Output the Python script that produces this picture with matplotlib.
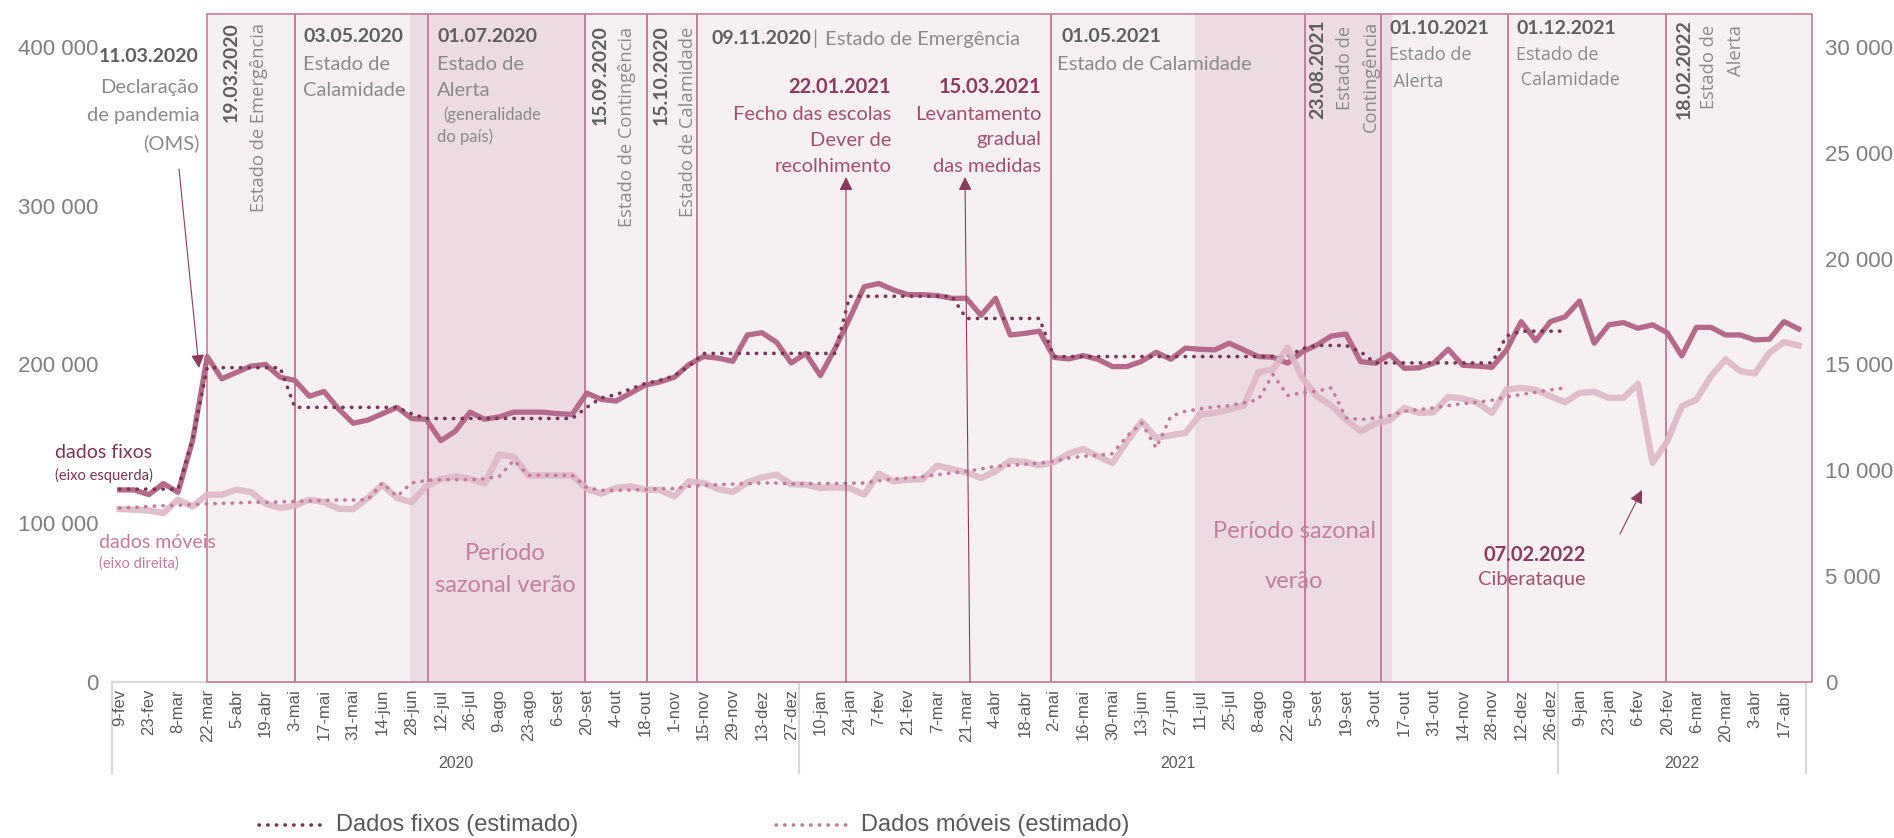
import numpy as np
import matplotlib
matplotlib.use('Agg')
import matplotlib.pyplot as plt
from matplotlib.patches import Rectangle, FancyArrowPatch
from matplotlib.lines import Line2D

W, H = 1894, 838

# ---------------- data ----------------
week_labels = ['9-fev', '23-fev', '8-mar', '22-mar', '5-abr', '19-abr', '3-mai', '17-mai', '31-mai', '14-jun',
               '28-jun', '12-jul', '26-jul', '9-ago', '23-ago', '6-set', '20-set', '4-out', '18-out', '1-nov',
               '15-nov', '29-nov', '13-dez', '27-dez',
               '10-jan', '24-jan', '7-fev', '21-fev', '7-mar', '21-mar', '4-abr', '18-abr', '2-mai', '16-mai',
               '30-mai', '13-jun', '27-jun', '11-jul', '25-jul', '8-ago', '22-ago', '5-set', '19-set', '3-out',
               '17-out', '31-out', '14-nov', '28-nov', '12-dez', '26-dez',
               '9-jan', '23-jan', '6-fev', '20-fev', '6-mar', '20-mar', '3-abr', '17-abr']
years = ['2020', '2021', '2022']
year_bounds = [-0.5, 46.5, 98.5, 115.5]

dados_fixos = [121000, 121000, 118000, 125000, 119500, 152000, 205000, 191000, 195000, 199000,
               200000, 192000, 190000, 180000, 183000, 172000, 163000, 165000, 169000, 173000,
               166000, 165500, 152000, 158000, 170000, 165500, 167000, 170000, 170000, 170000,
               169000, 168600, 182000, 178000, 177000, 182000, 187000, 189000, 192000, 200000,
               205000, 204000, 202000, 218600, 220000, 214000, 201000, 207000, 193000, 210000,
               229000, 249000, 251000, 247000, 244000, 244000, 243400, 241700, 241700, 231000,
               241700, 218600, 219600, 221000, 204500, 203500, 205600, 203300, 198700, 198700,
               202000, 207700, 203300, 210300, 209600, 209200, 213400, 209200, 205000, 204600,
               200800, 208000, 212300, 218000, 219200, 201800, 200800, 206400, 197600, 197900,
               200800, 209600, 199500, 199000, 198200, 209200, 227000, 215000, 227000, 230000,
               240000, 213400, 225000, 226400, 222800, 225000, 220000, 205400, 223400, 223400,
               218600, 218600, 215500, 215900, 227000, 222400]

dados_fixos_est = [121500, 121500, 121500, 121500, 121500, 153000, 198000, 198000, 198000, 198000,
                   198000, 198000, 173000, 173000, 173000, 173000, 173000, 173000, 173000, 173000,
                   169000, 166000, 166000, 166000, 166000, 166000, 166000, 166000, 166000, 166000,
                   166000, 166000, 173000, 179000, 181000, 184600, 188000, 190000, 193000, 199000,
                   207000, 207000, 207000, 207000, 207000, 207000, 207000, 207000, 207000, 207000,
                   243000, 243000, 243000, 243000, 243000, 243000, 243000, 243000, 229000, 229000,
                   229000, 229000, 229000, 229000, 205000, 205000, 205000, 205000, 205000, 205000,
                   205000, 205000, 205000, 205000, 205000, 205000, 205000, 205000, 205000, 205000,
                   205000, 210000, 212000, 212000, 212000, 208000, 201000, 201000, 201000, 201000,
                   201000, 201000, 201000, 201000, 201000, 218000, 221000, 221000, 221000, 221000]

dados_moveis = [8172, 8139, 8100, 7983, 8612, 8296, 8849, 8849, 9086, 8976,
                8423, 8219, 8328, 8612, 8502, 8186, 8170, 8693, 9322, 8693,
                8502, 9243, 9590, 9716, 9606, 9370, 10742, 10632, 9748, 9764,
                9764, 9764, 9118, 8896, 9165, 9244, 9086, 9070, 8770, 9480,
                9400, 9118, 8976, 9433, 9670, 9795, 9340, 9322, 9165, 9200,
                9165, 8849, 9843, 9480, 9559, 9575, 10221, 10064, 9906, 9638,
                9953, 10458, 10395, 10237, 10379, 10789, 11011, 10663, 10348, 11350,
                12318, 11530, 11656, 11767, 12634, 12713, 12871, 13060, 14638, 14764,
                15789, 14370, 13502, 13060, 12398, 11845, 12208, 12366, 12950, 12713,
                12745, 13470, 13390, 13200, 12713, 13817, 13896, 13800, 13502, 13218,
                13660, 13707, 13423, 13423, 14086, 10348, 11372, 13029, 13344, 14448,
                15237, 14685, 14575, 15552, 16057, 15900]

dados_moveis_est = [8219, 8250, 8298, 8330, 8350, 8376, 8420, 8440, 8455, 8490,
                    8490, 8510, 8534, 8550, 8580, 8600, 8600, 8612, 9401, 8770,
                    9401, 9527, 9559, 9559, 9559, 9600, 9716, 10474, 9764, 9764,
                    9764, 9764, 9180, 9054, 9054, 9070, 9090, 9133, 9133, 9244,
                    9291, 9323, 9354, 9370, 9401, 9401, 9354, 9370, 9380, 9380,
                    9390, 9400, 9512, 9590, 9638, 9700, 9795, 9875, 9953, 10064,
                    10190, 10237, 10284, 10332, 10426, 10584, 10663, 10710, 10789, 11609,
                    12240, 11057, 12555, 12792, 12902, 12997, 13060, 13186, 13344, 14527,
                    13534, 13660, 13739, 13897, 12476, 12398, 12476, 12587, 12792, 12871,
                    12950, 13060, 13150, 13218, 13313, 13470, 13581, 13691, 13800, 13896]

# periods (box edges in week-index units) and summer periods
box_edges = [6.0, 12.0, 21.1, 31.9, 36.1, 39.57, 63.77, 81.2, 86.4, 95.1, 105.9, 115.95]
summer_periods = [(19.9, 31.9), (73.66, 87.13)]

# ---------------- styling ----------------
C_FIX = '#b46a88'
C_FIX_EST = '#7a3552'
C_MOV = '#deb8c7'
C_MOV_EST = '#c27b98'
C_BOX = '#f7f0f3'
C_BOX_EDGE = '#c47d9a'
C_SUMMER = '#ecdbe2'
C_DATE = '#5e5e5e'
C_DESC = '#8a8a8a'
C_MAG = '#8b3a5e'
C_MAG2 = '#a0506f'
C_PER = '#c47f9c'

plt.rcParams['font.family'] = ['Lato', 'DejaVu Sans']

fig = plt.figure(figsize=(W / 100, H / 100), dpi=100)
x0_px, x1_px = 112.3, 1805.9
y0_px, y1_px = 682.0, 47.0
ax = fig.add_axes([x0_px / W, (H - y0_px) / H, (x1_px - x0_px) / W, (y0_px - y1_px) / H])
ax2 = ax.twinx()

ax.set_xlim(-0.5, 115.5)
ax.set_ylim(0, 400000)
ax2.set_ylim(0, 30000)
ax.patch.set_alpha(0)

top_val = 421000
for a, b in zip(box_edges[:-1], box_edges[1:]):
    ax.add_patch(Rectangle((a, 0), b - a, top_val, facecolor=C_BOX, edgecolor='none',
                           zorder=0.5, clip_on=False))
for a, b in summer_periods:
    ax.add_patch(Rectangle((a, 0), b - a, top_val, facecolor=C_SUMMER, edgecolor='none',
                           zorder=0.6, clip_on=False))
for a, b in zip(box_edges[:-1], box_edges[1:]):
    ax.add_patch(Rectangle((a, 0), b - a, top_val, facecolor='none', edgecolor=C_BOX_EDGE,
                           lw=1.2, zorder=0.7, clip_on=False))

x_all = np.arange(len(dados_fixos))
x_est = np.arange(len(dados_fixos_est))

ax.plot(x_all, dados_fixos, color=C_FIX, lw=3.8, zorder=3)
ax.plot(x_est, dados_fixos_est, color=C_FIX_EST, lw=2.6, zorder=4,
        linestyle=(0, (0.1, 2.3)), dash_capstyle='round')
ax2.plot(x_all, dados_moveis, color=C_MOV, lw=4.6, zorder=3, alpha=0.9)
ax2.plot(x_est, dados_moveis_est, color=C_MOV_EST, lw=2.6, zorder=4,
         linestyle=(0, (0.1, 2.3)), dash_capstyle='round')

for s in ['left', 'right', 'top']:
    ax.spines[s].set_visible(False)
    ax2.spines[s].set_visible(False)
ax2.spines['bottom'].set_visible(False)
ax.spines['bottom'].set_color('#d9d9d9')
ax.spines['bottom'].set_linewidth(1.5)
ax.spines['bottom'].set_zorder(0.4)

fmt = lambda v: f"{int(v):,}".replace(',', ' ')
lt = [0, 100000, 200000, 300000, 400000]
ax.set_yticks(lt)
ax.set_yticklabels([fmt(v) for v in lt], fontfamily='Liberation Sans', fontsize=16, color='#7f7f7f')
rt = [0, 5000, 10000, 15000, 20000, 25000, 30000]
ax2.set_yticks(rt)
ax2.set_yticklabels([fmt(v) for v in rt], fontfamily='Liberation Sans', fontsize=16, color='#7f7f7f')
ax.tick_params(axis='y', length=0, pad=10)
ax2.tick_params(axis='y', length=0, pad=14)

ax.set_xticks(np.arange(0, 116, 2))
ax.set_xticklabels(week_labels, rotation=90, fontfamily='Liberation Sans', fontsize=12, color='#595959')
ax.tick_params(axis='x', length=0, pad=5)

tx = ax.get_xaxis_transform()
for xb in year_bounds:
    ax.plot([xb, xb], [0, -0.1433], transform=tx, color='#d9d9d9', lw=1.5, clip_on=False, zorder=0.4)
for i, yl in enumerate(years):
    ax.text((year_bounds[i] + year_bounds[i + 1]) / 2, -0.1276, yl, transform=tx, ha='center',
            va='center', fontfamily='Liberation Sans', fontsize=11.5, color='#595959')


# ---------------- annotations ----------------
def T(x, y, s, **kw):
    kw.setdefault('va', 'center')
    fig.text(x / W, 1 - y / H, s, **kw)


def R(x, ytop, s, **kw):
    fig.text(x / W, 1 - ytop / H, s, rotation=90, ha='center', va='top', **kw)


B = dict(fontweight='bold', color=C_DATE, fontsize=14)
D = dict(color=C_DESC, fontsize=14.5)
OS = dict(color=C_DESC, fontsize=13.2, family=['Open Sans', 'DejaVu Sans'])
OSH = dict(color=C_DESC, fontsize=13, family=['Open Sans', 'DejaVu Sans'])
OSB = dict(color=C_DATE, fontsize=14, fontweight='bold')

T(199, 57, '11.03.2020', ha='right', **B)
T(199, 87, 'Declaração', ha='right', **D)
T(199, 115, 'de pandemia', ha='right', **D)
T(199, 143, '(OMS)', ha='right', **D)

R(231, 22, '19.03.2020', **OSB)
R(259, 23, 'Estado de Emergência', **OS)

T(303, 37, '03.05.2020', ha='left', **B)
T(303, 64, 'Estado de', ha='left', **D)
T(303, 91, 'Calamidade', ha='left', **D)

T(437, 37, '01.07.2020', ha='left', **B)
T(437, 64, 'Estado de', ha='left', **D)
T(437, 91, 'Alerta', ha='left', **D)
T(443, 115, '(generalidade', ha='left', color=C_DESC, fontsize=12)
T(437, 137, 'do país)', ha='left', color=C_DESC, fontsize=12)

R(600, 25, '15.09.2020', **OSB)
R(627, 27, 'Estado de Contingência', **OS)
R(661, 25, '15.10.2020', **OSB)
R(688, 27, 'Estado de Calamidade', **OS)

T(711, 39, '09.11.2020', ha='left', **B)
T(815, 39, '|', ha='center', **D)
T(825, 39, 'Estado de Emergência', ha='left', **D)

T(891, 87, '22.01.2021', ha='right', fontweight='bold', color=C_MAG, fontsize=14.5)
T(891, 115, 'Fecho das escolas', ha='right', color=C_MAG2, fontsize=14.5)
T(891, 140, 'Dever de', ha='right', color=C_MAG2, fontsize=14.5)
T(891, 167, 'recolhimento', ha='right', color=C_MAG2, fontsize=14.5)

T(1041, 87, '15.03.2021', ha='right', fontweight='bold', color=C_MAG, fontsize=14.5)
T(1041, 115, 'Levantamento', ha='right', color=C_MAG2, fontsize=14.5)
T(1041, 140, 'gradual', ha='right', color=C_MAG2, fontsize=14.5)
T(1041, 167, 'das medidas', ha='right', color=C_MAG2, fontsize=14.5)

T(1061, 37, '01.05.2021', ha='left', **B)
T(1057, 64, 'Estado de Calamidade', ha='left', **D)

R(1318, 19, '23.08.2021', **OSB)
R(1345, 26, 'Estado de', **OS)
R(1371, 21, 'Contingência', **OS)

T(1389, 28, '01.10.2021', ha='left', **B)
T(1389, 55, 'Estado de', ha='left', **OSH)
T(1389, 82, ' Alerta', ha='left', **OSH)

T(1516, 28, '01.12.2021', ha='left', **B)
T(1516, 55, 'Estado de', ha='left', **OSH)
T(1516, 80, ' Calamidade', ha='left', **OSH)

R(1684, 19, '18.02.2022', **OSB)
R(1709, 25, 'Estado de', **OS)
R(1736, 25, 'Alerta', **OS)

T(505, 553, 'Período', ha='center', color=C_PER, fontsize=17)
T(505, 585, 'sazonal verão', ha='center', color=C_PER, fontsize=17)
T(1294, 531, 'Período sazonal', ha='center', color=C_PER, fontsize=17)
T(1294, 582, 'verão', ha='center', color=C_PER, fontsize=17)

T(55, 452, 'dados fixos', ha='left', color=C_FIX_EST, fontsize=14)
T(55, 475, '(eixo esquerda)', ha='left', color=C_FIX_EST, fontsize=10.5)
T(99, 542, 'dados móveis', ha='left', color=C_MOV_EST, fontsize=14)
T(99, 564, '(eixo direita)', ha='left', color=C_MOV_EST, fontsize=10.5)

T(1586, 555, '07.02.2022', ha='right', fontweight='bold', color=C_MAG, fontsize=14.5)
T(1586, 579, 'Ciberataque', ha='right', color=C_MAG2, fontsize=14.5)

arrow = dict(arrowstyle='-|>', color=C_MAG, lw=0.8, mutation_scale=20, shrinkA=0, shrinkB=0)


def A(xs, ys, xe, ye):
    fig.add_artist(FancyArrowPatch((xs, H - ys), (xe, H - ye), transform=None, **arrow))


A(179, 169, 199, 368)
A(846, 682, 846, 177)
A(970, 682, 965, 177)
A(1620, 534, 1642, 490)

# ---------------- legend ----------------
ly = H - 825
fig.add_artist(Line2D([259 / W, 325 / W], [ly / H, ly / H], color=C_FIX_EST, lw=2.6,
                      linestyle=(0, (0.1, 2.3)), dash_capstyle='round'))
T(336, 825, 'Dados fixos (estimado)', ha='left', fontfamily='Liberation Sans', fontsize=17, color='#595959')
fig.add_artist(Line2D([776 / W, 850 / W], [ly / H, ly / H], color=C_MOV_EST, lw=2.6,
                      linestyle=(0, (0.1, 2.3)), dash_capstyle='round'))
T(861, 825, 'Dados móveis (estimado)', ha='left', fontfamily='Liberation Sans', fontsize=17, color='#595959')

fig.savefig('out.png', dpi=100)
